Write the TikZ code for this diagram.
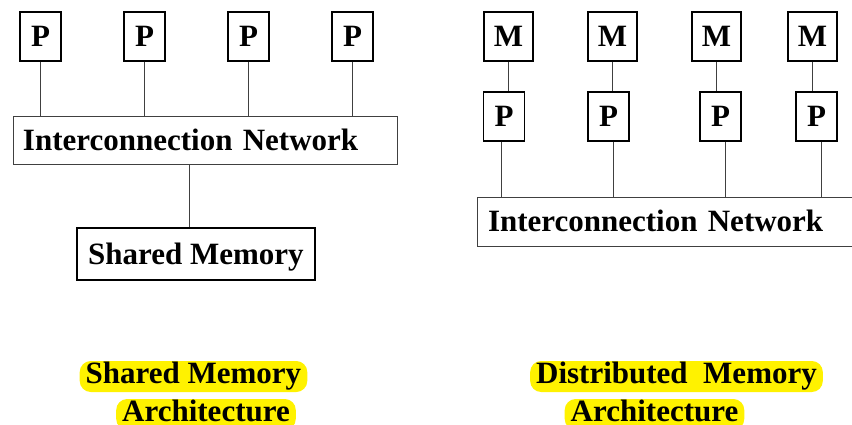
\documentclass[tikz,border=0pt]{standalone}
\usepackage{fontspec}
\setmainfont{Liberation Serif}
\begin{document}
\begin{tikzpicture}[x=1pt,y=-1pt,
  lbl/.style={font=\bfseries\fontsize{31}{31}\selectfont, text height=20.5pt, text depth=0pt, inner sep=0pt},
  unitbox/.style={lbl, draw=black, line width=1.1pt, minimum height=49pt},
  netbox/.style={lbl, draw=black!75, line width=0.9pt, align=left},
  wire/.style={draw=black!75, line width=0.9pt},
  hilite/.style={font=\bfseries\fontsize{31}{31}\selectfont, fill=yellow, rounded corners=11pt,
                 inner xsep=6pt, inner ysep=0pt, text height=22pt, text depth=9pt, anchor=base}
]
\useasboundingbox (0,0) rectangle (852,425);

% ---- shared memory architecture ----
\foreach \i/\x in {1/40.5, 2/144.5, 3/248.5, 4/352.5}
  \node[unitbox, minimum width=41pt] (sp\i) at (\x,36.5) {P};
\node[netbox, minimum height=48pt, inner xsep=10pt, text width=364pt] (snet) at (205,140)
  {Interconnection Network};
\node[lbl, draw=black, line width=2.5pt, minimum width=238pt, minimum height=52pt] (smem) at (196,254)
  {Shared Memory};
\foreach \i in {1,...,4}
  \draw[wire] (sp\i.south) -- (sp\i.south |- snet.north);
\draw[wire] ([xshift=-7pt]smem.north) -- ([xshift=-7pt]smem.north |- snet.south);

% ---- distributed memory architecture ----
\foreach \i/\x in {1/508.5, 2/612.5, 3/716.5, 4/812.5}
  \node[unitbox, minimum width=49pt] (dm\i) at (\x,36.5) {M};
\foreach \i/\x in {1/504, 2/608.5, 3/720.5, 4/816.5}
  \node[unitbox, minimum width=41pt] (dp\i) at (\x,116.5) {P};
\node[netbox, minimum height=49pt, inner xsep=11pt, text width=353pt] (dnet) at (664.5,221.5)
  {Interconnection Network};
\foreach \i in {1,...,4}
  \draw[wire] (dm\i.south) -- (dm\i.south |- dp\i.north);
% processor-to-network taps sit a little off the box centres
\foreach \i/\dx in {1/-3, 2/4.5, 3/4.5, 4/4.5}
  \draw[wire] ([xshift=\dx pt]dp\i.south) -- ([xshift=\dx pt]dp\i.south |- dnet.north);

% ---- captions ----
\node[hilite] (cap1a) at (193.5,383) {Shared Memory};
\node[hilite] (cap1b) at (206,421) {Architecture};
\node[hilite] (cap2a) at (676.5,383) {Distributed~~Memory};
\node[hilite] (cap2b) at (654.5,421) {Architecture};
\end{tikzpicture}
\end{document}
